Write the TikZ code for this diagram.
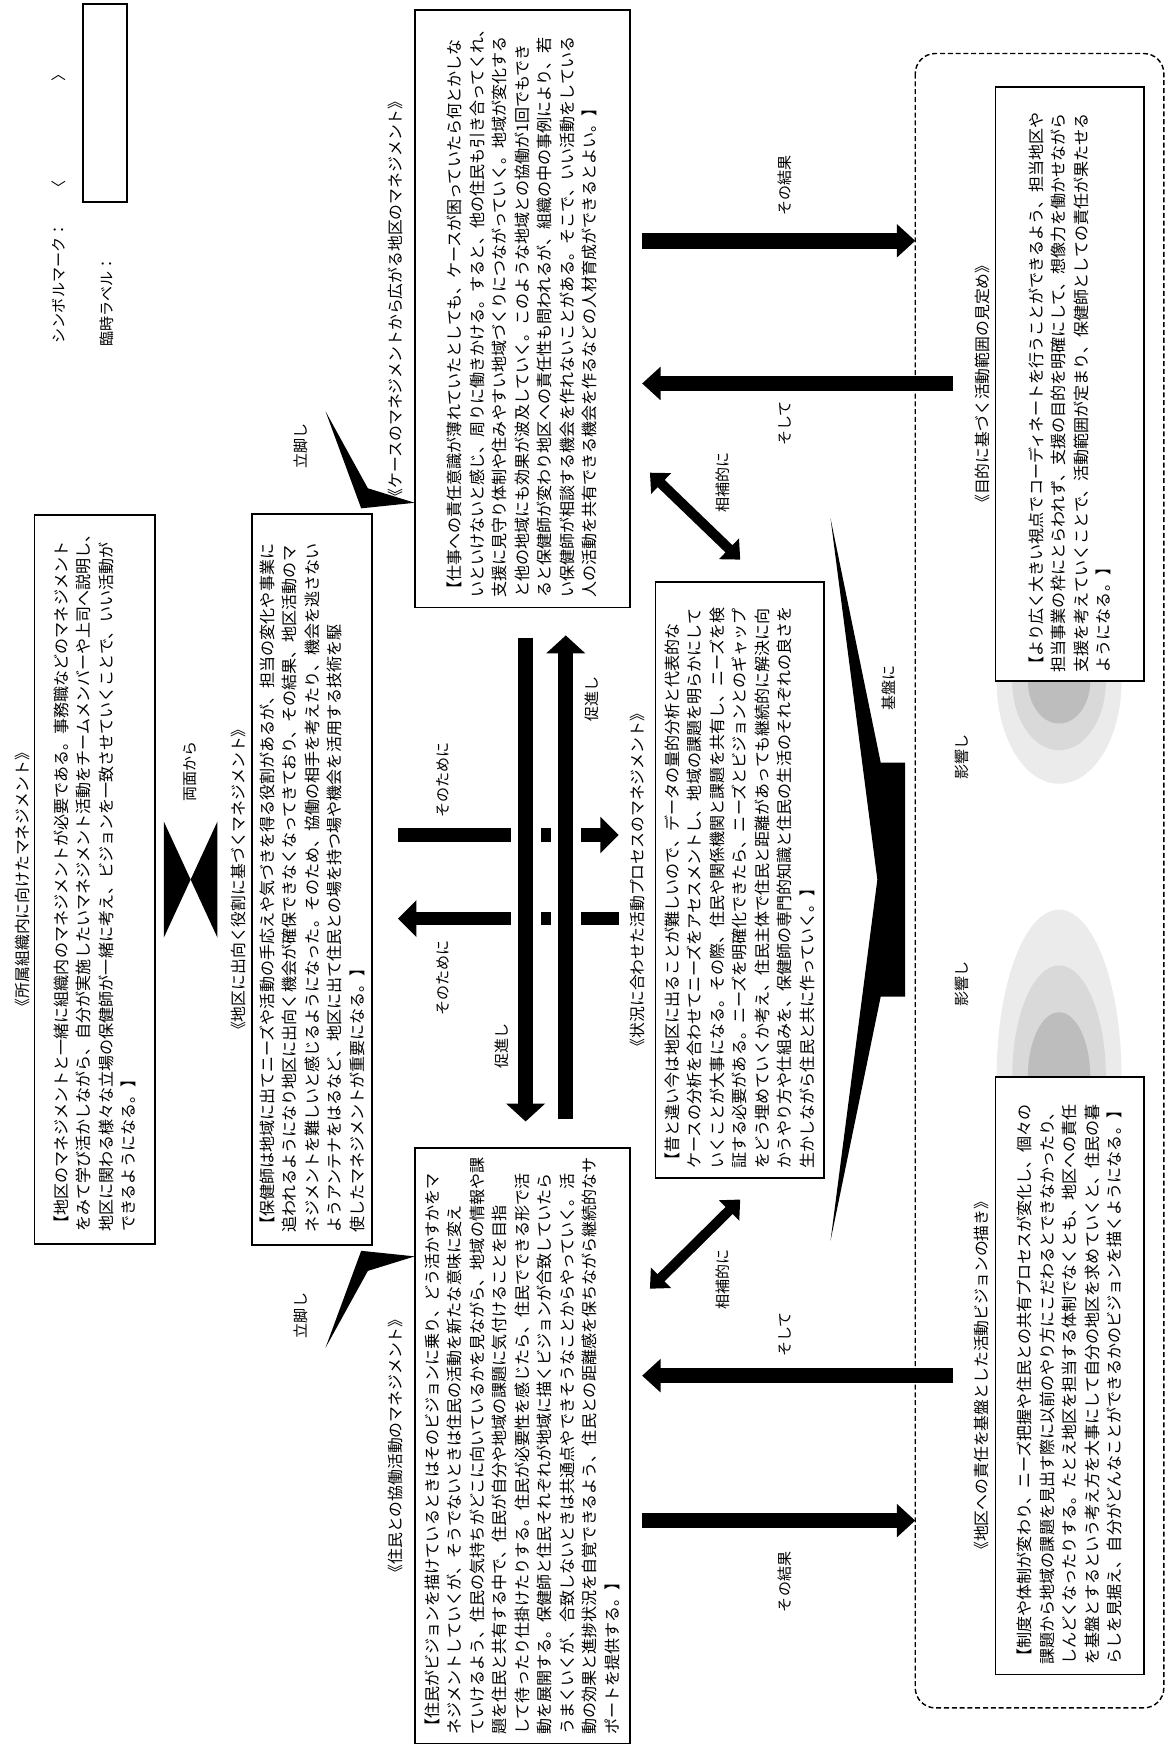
\documentclass[tikz,border=0pt]{standalone}
\usepackage{fontspec}
\setmainfont{Noto Sans CJK JP}
\usetikzlibrary{arrows.meta,calc}
\begin{document}
\begin{tikzpicture}[x=1pt,y=-1pt,
  txtbox/.style={draw=black, line width=1.6pt, fill=white, rotate=90, inner sep=0pt, align=left,
     font=\fontsize{14.4}{20.2}\selectfont},
  ttl/.style={rotate=90, inner sep=0pt, font=\fontsize{14.2}{16}\selectfont},
  lbl/.style={rotate=90, inner sep=0pt, font=\fontsize{13.5}{15}\selectfont},
  bigarrow/.style={line width=14pt, -{Triangle[width=29pt,length=16.5pt]}},
  midarrow/.style={line width=12pt, -{Triangle[width=32pt,length=16.5pt]}},
  vertarrow/.style={line width=13.5pt, -{Triangle[width=34pt,length=16pt]}},
  dblarrow/.style={line width=9pt, {Triangle[width=25pt,length=14pt]}-{Triangle[width=25pt,length=14pt]}},
]
\useasboundingbox (0,0) rectangle (1050,1568);
\fill[white] (0,0) rectangle (1050,1568);

% ---------- legend ----------
\node[lbl, anchor=west] (symlabel) at (53,308) {シンボルマーク：};
\node[lbl] (symopen) at (53,169) {〈};
\node[lbl] (symclose) at (53,66) {〉};
\node[lbl, anchor=west] (tmplabel) at (96,311) {臨時ラベル：};
\node[draw, line width=1.6pt, minimum width=39.5pt, minimum height=177.4pt, inner sep=0pt] (legendbox) at (94.25,92.3) {};

% ---------- dashed region ----------
\draw[line width=1.3pt, dash pattern=on 4.5pt off 2.5pt, rounded corners=18pt] (821,48) rectangle (1044,1532);

% ---------- influence blobs ----------
\begin{scope}
  \clip (880,611) rectangle (1040,966);
  \fill[gray!16] (950,611) ellipse [x radius=56, y radius=92];
  \fill[gray!30] (950,611) ellipse [x radius=42, y radius=62];
  \fill[gray!52] (950,611) ellipse [x radius=28, y radius=38];
  \fill[gray!16] (950,966) ellipse [x radius=56, y radius=150];
  \fill[gray!30] (950,966) ellipse [x radius=42, y radius=100];
  \fill[gray!52] (950,966) ellipse [x radius=28, y radius=58];
\end{scope}

% ---------- boxes ----------
\node[txtbox, minimum width=654pt, minimum height=108pt, text width=632pt] (orgbox) at (85,789) {%
【地区のマネジメントと一緒に組織内のマネジメントが必要である。事務職などのマネジメント\\
をみて学び活かしながら、自分が実施したいマネジメント活動をチームメンバーや上司へ説明し、\\
地区に関わる様々な立場の保健師が一緒に考え、ビジョンを一致させていくことで、いい活動が\\
できるようになる。】};
\node[ttl] (orgtitle) at (20,789) {《所属組織内に向けたマネジメント》};

\node[txtbox, minimum width=656pt, minimum height=108pt, text width=634pt] (visitbox) at (280,789) {%
【保健師は地域に出てニーズや活動の手応えや気づきを得る役割があるが、担当の変化や事業に\\
追われるようになり地区に出向く機会が確保できなくなってきており、その結果、地区活動のマ\\
ネジメントを難しいと感じるようになった。そのため、協働の相手を考えたり、機会を逃さない\\
ようアンテナをはるなど、地区に出て住民との場を持つ場や機会を活用する技術を駆\\
使したマネジメントが重要になる。】};
\node[ttl] (visittitle) at (214,789) {《地区に出向く役割に基づくマネジメント》};

\node[txtbox, minimum width=536pt, minimum height=193pt, text width=518pt] (casebox) at (468.5,277) {%
【仕事への責任意識が薄れていたとしても、ケースが困っていたら何とかしな\\
いといけないと感じ、周りに働きかける。すると、他の住民も引き合ってくれ、\\
支援に見守り体制や住みやすい地域づくりにつながっていく。地域が変化する\\
と他の地域にも効果が波及していく。このような地域との協働が1回でもでき\\
ると保健師が変わり地区への責任性も問われるが、組織の中の事例により、若\\
い保健師が相談する機会を作れないことがある。そこで、いい活動をしている\\
人の活動を共有できる機会を作るなどの人材育成ができるとよい。】};
\node[ttl] (casetitle) at (355,268) {《ケースのマネジメントから広がる地区のマネジメント》};

\node[txtbox, minimum width=535pt, minimum height=151pt, text width=517pt] (procbox) at (663.5,789.5) {%
【昔と違い今は地区に出ることが難しいので、データの量的分析と代表的な\\
ケースの分析を合わせてニーズをアセスメントし、地域の課題を明らかにして\\
いくことが大事になる。その際、住民や関係機関と課題を共有し、ニーズを検\\
証する必要がある。ニーズを明確化できたら、ニーズとビジョンとのギャップ\\
をどう埋めていくか考え、住民主体で住民と距離があっても継続的に解決に向\\
かうやり方や仕組みを、保健師の専門的知識と住民の生活のそれぞれの良さを\\
生かしながら住民と共に作っていく。】};
\node[ttl] (proctitle) at (572,789.5) {《状況に合わせた活動プロセスのマネジメント》};

\node[txtbox, minimum width=534pt, minimum height=193pt, text width=518pt] (resbox) at (468.5,1297) {%
【住民がビジョンを描けているときはそのビジョンに乗り、どう活かすかをマ\\
ネジメントしていくが、そうでないときは住民の活動を新たな意味に変え\\
ていけるよう、住民の気持ちがどこに向いているかを見ながら、地域の情報や課\\
題を住民と共有する中で、住民が自分や地域の課題に気付けることを目指\\
して待ったり仕掛けたりする。住民が必要性を感じたら、住民でできる形で活\\
動を展開する。保健師と住民それぞれが地域に描くビジョンが合致していたら\\
うまくいくが、合致しないときは共通点やできそうなことからやっていく。活\\
動の効果と進捗状況を自覚できるよう、住民との距離感を保ちながら継続的なサ\\
ポートを提供する。】};
\node[ttl] (restitle) at (355,1297) {《住民との協働活動のマネジメント》};

\node[txtbox, minimum width=533pt, minimum height=133pt, text width=517pt] (purpbox) at (959.5,344.5) {%
【より広く大きい視点でコーディネートを行うことができるよう、担当地区や\\
担当事業の枠にとらわれず、支援の目的を明確にして、想像力を働かせながら\\
支援を考えていくことで、活動範囲が定まり、保健師としての責任が果たせる\\
ようになる。】};
\node[ttl] (purptitle) at (881,344.5) {《目的に基づく活動範囲の見定め》};

\node[txtbox, minimum width=536pt, minimum height=133pt, text width=518pt] (visionbox) at (959.5,1234) {%
【制度や体制が変わり、ニーズ把握や住民との共有プロセスが変化し、個々の\\
課題から地域の課題を見出す際に以前のやり方にこだわるとできなかったり、\\
しんどくなったりする。たとえ地区を担当する体制でなくとも、地区への責任\\
を基盤とするという考え方を大事にして自分の地区を求めていくと、住民の暮\\
らしを見据え、自分がどんなことができるかのビジョンを描くようになる。】};
\node[ttl] (visiontitle) at (880,1234) {《地区への責任を基盤とした活動ビジョンの描き》};

% ---------- bowtie ----------
\coordinate (bowmid) at (171,789);
\fill (147,737) -- (bowmid) -- (147,841) -- cycle;
\fill (195,737) -- (bowmid) -- (195,841) -- cycle;
\node[lbl] (bothsides) at (171,692) {両面から};

% ---------- callouts ----------
\coordinate (calltop) at (372,451);
\coordinate (callbot) at (372,1127);
\fill (calltop) -- (324,456) -- (292,369) -- (330,438) -- cycle;
\fill (callbot) -- (324,1122) -- (292,1209) -- (330,1140) -- cycle;
\node[lbl] (base1) at (270,400) {立脚し};
\node[lbl] (base2) at (270,1180) {立脚し};

% ---------- middle cross arrows ----------
\coordinate (h1s) at (357,749); \coordinate (h1e) at (555,749);
\coordinate (h2s) at (555,824); \coordinate (h2e) at (357,824);
\draw[midarrow] (h1s) -- (h1e);
\draw[midarrow] (h2s) -- (h2e);
\node[lbl] (forthat1) at (397,700) {そのために};
\node[lbl] (forthat2) at (397,877) {そのために};
\coordinate (v1s) at (471.5,572); \coordinate (v1e) at (471.5,1006);
\coordinate (v2s) at (507.5,1004); \coordinate (v2e) at (507.5,570);
\draw[white, line width=27pt] (471.5,725) -- (471.5,850);
\draw[white, line width=27pt] (507.5,725) -- (507.5,850);
\draw[vertarrow] (v1s) -- (v1e);
\draw[vertarrow] (v2s) -- (v2e);
\node[lbl] (promote1) at (450,938) {促進し};
\node[lbl] (promote2) at (531,627) {促進し};

% ---------- complementary ----------
\coordinate (c1a) at (583,424); \coordinate (c1b) at (664,502);
\coordinate (c2a) at (583,1156); \coordinate (c2b) at (664,1076);
\draw[dblarrow] (c1a) -- (c1b);
\draw[dblarrow] (c2a) -- (c2b);
\node[lbl] (comp1) at (648,433) {相補的に};
\node[lbl] (comp2) at (648,1148) {相補的に};

% ---------- result / then arrows ----------
\coordinate (r1s) at (576,216); \coordinate (r1e) at (821,216);
\coordinate (t1s) at (855,344); \coordinate (t1e) at (576,344);
\coordinate (t2s) at (855,1234); \coordinate (t2e) at (576,1234);
\coordinate (r2s) at (576,1364); \coordinate (r2e) at (821,1364);
\draw[bigarrow] (r1s) -- (r1e);
\draw[bigarrow] (t1s) -- (t1e);
\draw[bigarrow] (t2s) -- (t2e);
\draw[bigarrow] (r2s) -- (r2e);
\node[lbl] (res1) at (704,166) {その結果};
\node[lbl] (then1) at (704,380) {そして};
\node[lbl] (then2) at (704,1197) {そして};
\node[lbl] (res2) at (704,1419) {その結果};

% ---------- foundation chevron ----------
\fill (745,465) -- (790,684) -- (812,684) -- (812,894) -- (790,894) -- (745,1113) -- (787,789) -- cycle;
\node[lbl] (found) at (797,617) {基盤に};

% ---------- influence labels ----------
\node[lbl] (infl1) at (863,679) {影響し};
\node[lbl] (infl2) at (863,883) {影響し};
\end{tikzpicture}
\end{document}
